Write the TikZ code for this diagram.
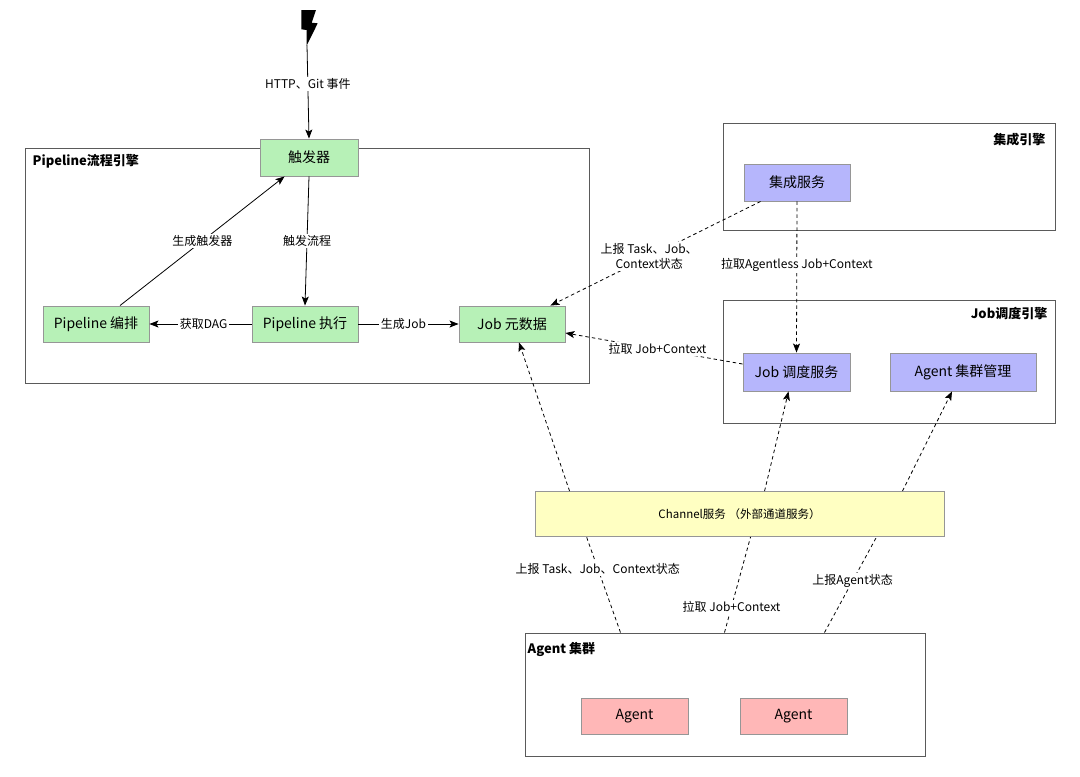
\documentclass[tikz,border=0pt]{standalone}
\usepackage{fontspec}
\setmainfont{Noto Sans CJK SC}
\usetikzlibrary{arrows.meta,calc}
\definecolor{gfill}{RGB}{183,241,183}
\definecolor{pfill}{RGB}{182,182,252}
\definecolor{yfill}{RGB}{255,255,194}
\definecolor{rfill}{RGB}{255,183,183}
\definecolor{nborder}{RGB}{150,150,150}
\definecolor{cborder}{RGB}{90,90,90}
\begin{document}
\begin{tikzpicture}[x=1pt,y=-1pt,
  box/.style={draw=nborder, line width=0.9pt, minimum width=106pt, minimum height=36pt, inner sep=0pt, font=\fontsize{14}{16}\selectfont},
  gbox/.style={box, fill=gfill},
  pbox/.style={box, fill=pfill},
  ybox/.style={box, fill=yfill},
  rbox/.style={box, fill=rfill},
  container/.style={draw=cborder, line width=1pt, inner sep=0pt},
  lbl/.style={fill=white, inner sep=1.5pt, font=\fontsize{12}{14.5}\selectfont, align=center},
  arr/.style={-{Stealth[length=9pt,width=7pt,inset=2pt]}, line width=0.8pt},
  darr/.style={arr, dash pattern=on 3.5pt off 3pt},
  dline/.style={line width=0.8pt, dash pattern=on 3.5pt off 3pt},
  ttl/.style={inner sep=0pt, font=\fontsize{13}{16}\selectfont\bfseries}
]
\useasboundingbox (0,0) rectangle (1080,777);

% containers
\node[container, minimum width=564pt, minimum height=235pt] (pipe) at (307,265.5) {};
\node[container, minimum width=332pt, minimum height=107pt] (integbox) at (889,176.5) {};
\node[container, minimum width=332pt, minimum height=123pt] (schedbox) at (889,361.5) {};
\node[container, minimum width=400pt, minimum height=123pt] (agentbox) at (725,694.5) {};

\node[ttl, anchor=west] (pipettl) at ($(pipe.north west)+(8,14)$) {Pipeline流程引擎};
\node[ttl, anchor=east] (integttl) at ($(integbox.north east)+(-10,17)$) {集成引擎};
\node[ttl, anchor=east] (schedttl) at ($(schedbox.north east)+(-8,14)$) {Job调度引擎};
\node[ttl, anchor=west] (agentttl) at ($(agentbox.north west)+(3,17)$) {Agent 集群};

% lightning bolt
\fill[black] (301.3,10) -- (316,10) -- (311.7,22.7) -- (317.7,23.3) -- (306.7,45.5) -- (306.7,30) -- (301.3,29.3) -- cycle;
\coordinate (bolttip) at (307,45);

% nodes
\node[gbox, minimum width=98pt, minimum height=37pt] (trig) at (309,157.5) {触发器};
\node[gbox] (orch) at (96,324) {Pipeline 编排};
\node[gbox] (exec) at (305,324) {Pipeline 执行};
\node[gbox] (jobmeta) at (512,324) {Job 元数据};
\node[pbox, minimum height=37pt] (integ) at (797,182.5) {集成服务};
\node[pbox, minimum width=107pt, minimum height=38pt] (sched) at (796.5,372) {Job 调度服务};
\node[pbox, minimum width=146pt, minimum height=38pt] (agmgr) at (963,372) {Agent 集群管理};
\node[ybox, minimum width=409pt, minimum height=45pt, font=\fontsize{11.5}{14}\selectfont] (channel) at (739.5,514) {Channel服务 （外部通道服务）};
\node[rbox, minimum width=107pt] (agent1) at (634.5,716) {Agent};
\node[rbox, minimum width=107pt] (agent2) at (793.5,716) {Agent};

% solid arrows
\draw[arr] (bolttip) -- node[lbl, pos=0.42] {HTTP、Git 事件} (trig.north);
\draw[arr] ($(orch.north)+(24,0)$) -- node[lbl] {生成触发器} ($(trig.south west)+(25,0)$);
\draw[arr] (trig.south) -- node[lbl, pos=0.5] {触发流程} (exec.north);
\draw[arr] (exec.west) -- node[lbl, pos=0.47] {获取DAG} (orch.east);
\draw[arr] (exec.east) -- node[lbl, pos=0.45] {生成Job} (jobmeta.west);

% dashed arrows
\draw[darr] ($(integ.south west)+(17,0)$) -- node[lbl, pos=0.53] {上报 Task、Job、\\Context状态} ($(jobmeta.north east)+(-15,0)$);
\draw[darr] (integ.south) -- node[lbl, pos=0.42] {拉取Agentless Job+Context} (sched.north);
\draw[darr] ($(sched.west)+(0,-8)$) -- node[lbl, pos=0.48] {拉取 Job+Context} ($(jobmeta.east)+(0,9)$);
\draw[darr] ($(channel.north west)+(35,0)$) -- ($(jobmeta.south)+(7,0)$);
\draw[darr] ($(channel.north west)+(230,0)$) -- ($(sched.south)+(-8,0)$);
\draw[darr] ($(channel.north east)+(-42,0)$) -- ($(agmgr.south)+(-11,0)$);

% dashed lines agents -> channel
\draw[dline] ($(agentbox.north west)+(96,0)$) -- node[lbl, pos=0.67] {上报 Task、Job、Context状态} ($(channel.south west)+(52,0)$);
\draw[dline] ($(agentbox.north west)+(200,0)$) -- node[lbl, pos=0.27] {拉取 Job+Context} ($(channel.south west)+(216,0)$);
\draw[dline] ($(agentbox.north west)+(300,0)$) -- node[lbl, pos=0.54] {上报Agent状态} ($(channel.south west)+(342,0)$);
\end{tikzpicture}
\end{document}
